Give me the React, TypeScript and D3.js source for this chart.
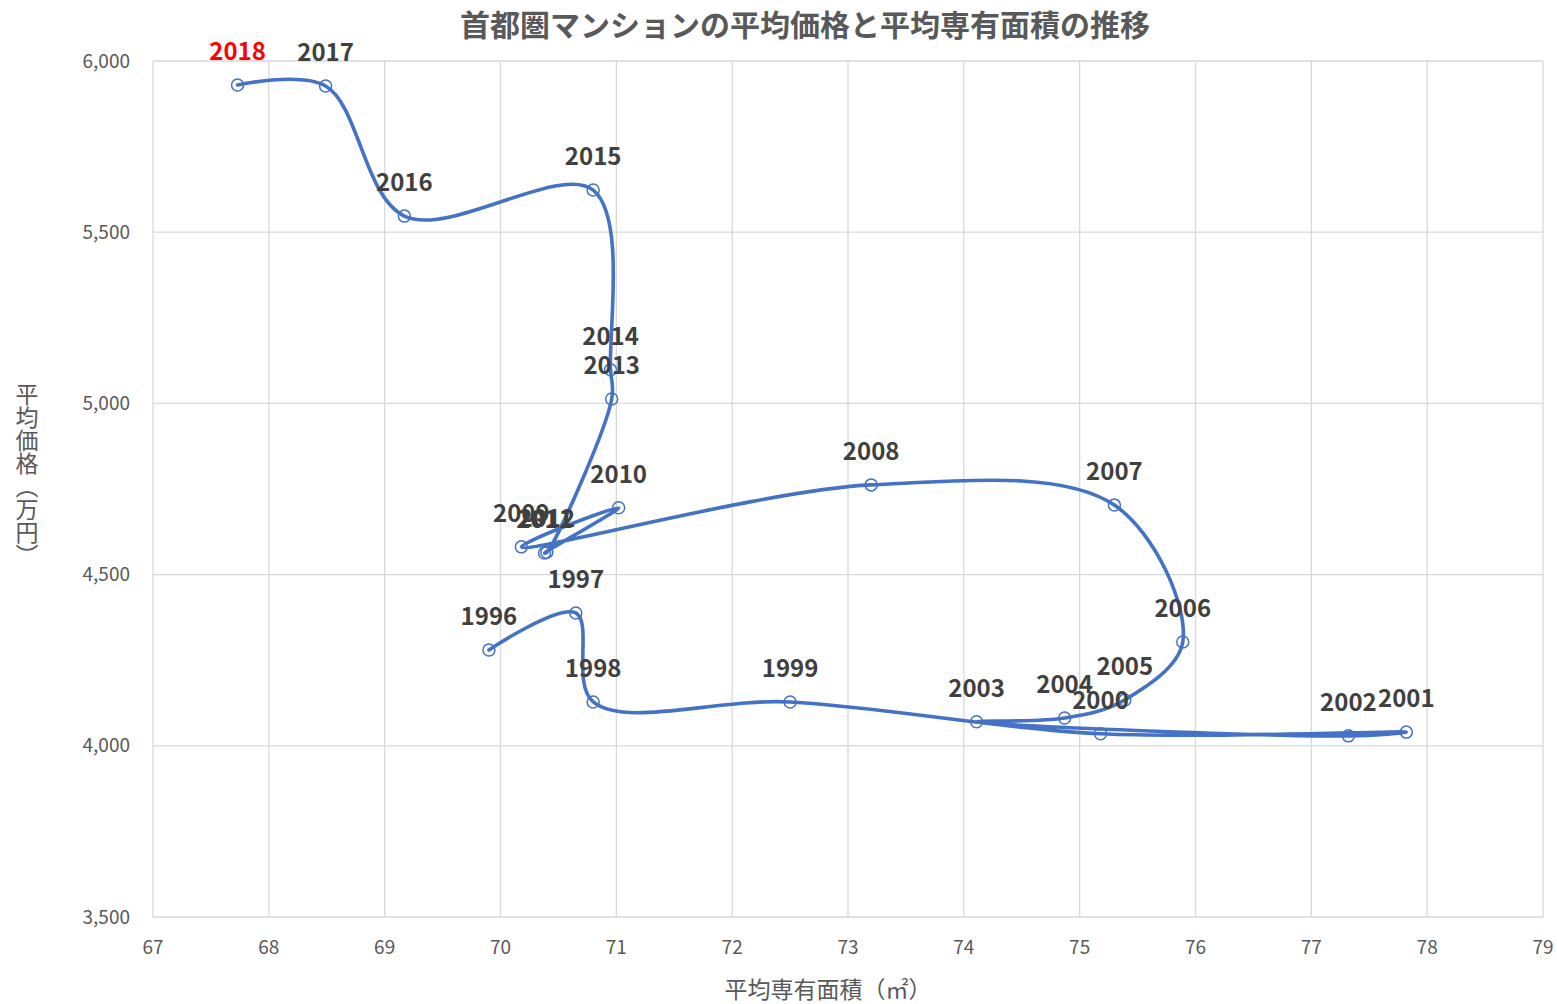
import React from "react";
import * as d3 from "d3";

const years = [1996,1997,1998,1999,2000,2001,2002,2003,2004,2005,2006,2007,2008,2009,2010,2011,2012,2013,2014,2015,2016,2017,2018];
const area = [69.90,70.65,70.80,72.50,75.18,77.82,77.32,74.11,74.87,75.39,75.89,75.30,73.20,70.18,71.02,70.38,70.40,70.96,70.95,70.80,69.17,68.49,67.73];
const price = [4280,4388,4128,4128,4035,4040,4029,4070,4081,4134,4303,4703,4762,4581,4695,4563,4565,5013,5098,5623,5547,5927,5930];
const xTicks = [67,68,69,70,71,72,73,74,75,76,77,78,79];
const yTicks = [3500,4000,4500,5000,5500,6000];
const highlightYear = 2018;

const W = 1557, H = 1004;
const L = 153, R = 1543, T = 61, B = 917;
const FONT = "'Noto Sans CJK JP', 'Noto Sans', sans-serif";

export default function App() {
  const x = d3.scaleLinear().domain([67, 79]).range([L, R]);
  const y = d3.scaleLinear().domain([3500, 6000]).range([B, T]);
  const pts = years.map((yr, i) => ({ yr, px: x(area[i]), py: y(price[i]) }));
  const line = d3.line<any>().x(d => d.px).y(d => d.py).curve(d3.curveCatmullRom.alpha(0.5));
  const fmt = d3.format(",");
  return (
    <svg width={W} height={H} style={{ position: "absolute", left: 0, top: 0, background: "#fff" }} fontFamily={FONT}>
      <rect x={0} y={0} width={W} height={H} fill="#fff" />
      <text x={805} y={36} textAnchor="middle" fontSize={30} fontWeight="bold" fill="#595959">首都圏マンションの平均価格と平均専有面積の推移</text>
      {xTicks.map(t => (
        <line key={"gx" + t} x1={x(t)} x2={x(t)} y1={T} y2={B} stroke="#d9d9d9" strokeWidth={1.3} />
      ))}
      {yTicks.map(t => (
        <line key={"gy" + t} x1={L} x2={R} y1={y(t)} y2={y(t)} stroke="#d9d9d9" strokeWidth={1.3} />
      ))}
      {yTicks.map(t => (
        <text key={"ty" + t} x={130} y={y(t)} dy="0.35em" textAnchor="end" fontSize={19} fill="#595959">{fmt(t)}</text>
      ))}
      {xTicks.map(t => (
        <text key={"tx" + t} x={x(t)} y={947} dy="0.35em" textAnchor="middle" fontSize={19} fill="#595959">{t}</text>
      ))}
      <text x={828} y={998} textAnchor="middle" fontSize={23} fill="#595959">平均専有面積（㎡）</text>
      <text x={27} y={475} textAnchor="middle" fontSize={23} fill="#595959" style={{ writingMode: "vertical-rl", textOrientation: "upright" } as any}>平均価格（万円）</text>
      <path d={line(pts) || ""} fill="none" stroke="#4472C4" strokeWidth={3.6} strokeLinejoin="round" strokeLinecap="round" />
      {pts.map(p => (
        <circle key={"c" + p.yr} cx={p.px} cy={p.py} r={6} fill="none" stroke="#4472C4" strokeWidth={1.5} />
      ))}
      {pts.map(p => (
        <text key={"l" + p.yr} x={p.px} y={p.py - 25} textAnchor="middle" fontSize={24} fontWeight="bold" fill={p.yr === highlightYear ? "#ff0000" : "#404040"}>{p.yr}</text>
      ))}
    </svg>
  );
}
